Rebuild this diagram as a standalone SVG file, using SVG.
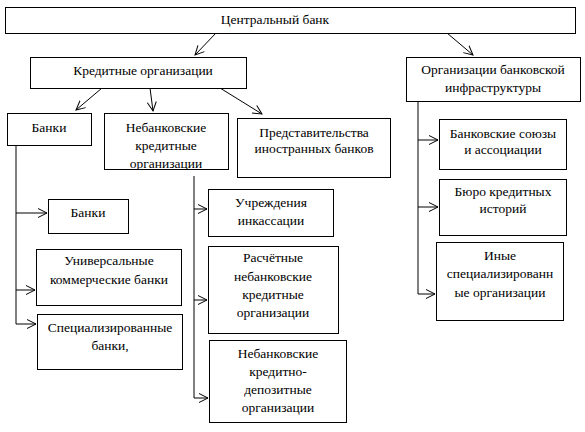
<svg xmlns="http://www.w3.org/2000/svg" width="585" height="432" viewBox="0 0 585 432">
<defs>
<marker id="ah" markerWidth="12" markerHeight="12" refX="10" refY="5" orient="auto" markerUnits="userSpaceOnUse">
<path d="M1,0.5 L10,5 L1,9.5" fill="none" stroke="#000" stroke-width="1"/>
</marker>
<style>
rect{fill:#fff;stroke:#000;stroke-width:1}
text{font-family:'Liberation Serif','Times New Roman',serif;font-size:13.5px;fill:#000;text-anchor:middle}
.c line,.c polyline{stroke:#000;stroke-width:1;fill:none}
</style>
</defs>
<rect x="0" y="0" width="585" height="432" style="stroke:none"/>
<g class="c" id="connectors">
<line x1="216" y1="33" x2="195" y2="55" marker-end="url(#ah)"/>
<line x1="447" y1="33" x2="473" y2="55" marker-end="url(#ah)"/>
<line x1="102" y1="88" x2="76" y2="110" marker-end="url(#ah)"/>
<line x1="150" y1="88" x2="153" y2="111" marker-end="url(#ah)"/>
<line x1="220" y1="88" x2="262" y2="114" marker-end="url(#ah)"/>
<polyline points="16,145 16,324"/>
<line x1="16" y1="213" x2="47" y2="213" marker-end="url(#ah)"/>
<line x1="16" y1="290" x2="35" y2="290" marker-end="url(#ah)"/>
<line x1="16" y1="324" x2="36" y2="324" marker-end="url(#ah)"/>
<polyline points="194,169 194,398"/>
<line x1="194" y1="209" x2="207" y2="209" marker-end="url(#ah)"/>
<line x1="194" y1="300" x2="207" y2="300" marker-end="url(#ah)"/>
<line x1="194" y1="398" x2="208" y2="398" marker-end="url(#ah)"/>
<polyline points="418,101 418,294"/>
<line x1="418" y1="140" x2="438" y2="140" marker-end="url(#ah)"/>
<line x1="418" y1="207" x2="438" y2="207" marker-end="url(#ah)"/>
<line x1="418" y1="294" x2="435" y2="294" marker-end="url(#ah)"/>
</g>
<g id="central"><rect x="5.5" y="7.5" width="570" height="26"/><text x="275" y="24">Центральный банк</text></g>
<g id="credit"><rect x="30.5" y="57.5" width="216" height="31"/><text x="143" y="75">Кредитные организации</text></g>
<g id="infra"><rect x="406.5" y="57.5" width="174" height="44"/><text x="493" y="74">Организации банковской</text><text x="493" y="92">инфраструктуры</text></g>
<g id="banks"><rect x="7.5" y="113.5" width="84" height="32"/><text x="49" y="132">Банки</text></g>
<g id="nonbank"><text x="166" y="132">Небанковские</text><text x="166" y="150">кредитные</text><text x="166" y="168">организации</text><rect x="104.5" y="113.5" width="124" height="56" style="fill:none"/><rect x="104" y="170" width="125" height="6" style="stroke:none"/></g>
<g id="repr"><rect x="237.5" y="118.5" width="153" height="59"/><text x="314" y="137">Представительства</text><text x="314" y="153">иностранных банков</text></g>
<g id="banks2"><rect x="48.5" y="199.5" width="80" height="34"/><text x="88" y="217">Банки</text></g>
<g id="universal"><rect x="36.5" y="249.5" width="145" height="56"/><text x="109" y="265">Универсальные</text><text x="109" y="284">коммерческие банки</text></g>
<g id="special"><rect x="37.5" y="314.5" width="145" height="55"/><text x="110" y="332">Специализированные</text><text x="110" y="350">банки,</text></g>
<g id="collect"><rect x="208.5" y="189.5" width="125" height="47"/><text x="271" y="207">Учреждения</text><text x="271" y="225">инкассации</text></g>
<g id="settle"><rect x="208.5" y="246.5" width="130" height="87"/><text x="273" y="262">Расчётные</text><text x="273" y="281">небанковские</text><text x="273" y="299">кредитные</text><text x="273" y="317">организации</text></g>
<g id="deposit"><rect x="209.5" y="340.5" width="137" height="82"/><text x="278" y="358">Небанковские</text><text x="278" y="376">кредитно-</text><text x="278" y="394">депозитные</text><text x="278" y="412">организации</text></g>
<g id="unions"><rect x="439.5" y="119.5" width="127" height="50"/><text x="503" y="138">Банковские союзы</text><text x="503" y="154">и ассоциации</text></g>
<g id="bureau"><rect x="439.5" y="179.5" width="127" height="56"/><text x="503" y="196">Бюро кредитных</text><text x="503" y="213">историй</text></g>
<g id="other"><rect x="436.5" y="242.5" width="127" height="78"/><text x="500" y="260">Иные</text><text x="500" y="278">специализированн</text><text x="500" y="297">ые организации</text></g>
</svg>
